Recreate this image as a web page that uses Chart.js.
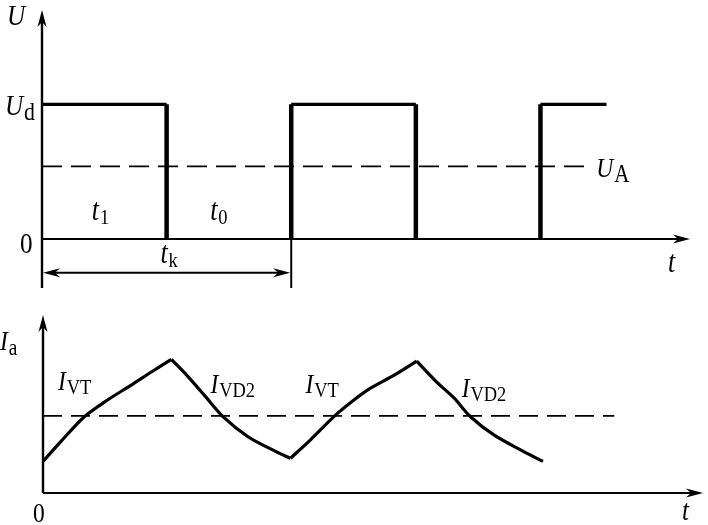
<!DOCTYPE html>
<html>
<head>
<meta charset="utf-8">
<script src="https://cdn.jsdelivr.net/npm/chart.js@4.4.0/dist/chart.umd.min.js"></script>
<style>
body { margin: 0; background: #fff; }
canvas { position: absolute; left: 0; }
#top { top: 0; }
#bottom { top: 300px; }
</style>
</head>
<body>
<canvas id="top" width="708" height="300"></canvas>
<canvas id="bottom" width="708" height="225"></canvas>
<script>
// VOLTAGE (top), time in units of t1
const uTimes = [0, 1, 1, 2, 2, 3, 3, 4, 4, 4.53];
const uValues = [1, 1, 0, 0, 1, 1, 0, 0, 1, 1];
const uAvg = 0.54;
const uAvgEnd = 4.4;
const tk = 2;

// CURRENT (bottom)
const iTimes = [0, 0.144, 0.331, 0.519, 0.706, 0.867, 1.027,
    1.16, 1.29, 1.44, 1.64, 1.86, 1.98,
    2.14, 2.34, 2.49, 2.62, 2.81, 2.99,
    3.15, 3.29, 3.42, 3.61, 3.82, 4.0];
const iValues = [0.41, 0.67, 0.99, 1.21, 1.40, 1.57, 1.735,
    1.51, 1.27, 0.99, 0.73, 0.54, 0.45,
    0.69, 1.01, 1.21, 1.36, 1.53, 1.71,
    1.44, 1.23, 0.99, 0.75, 0.56, 0.41];
const iBreaks = [0, 6, 12, 18, 24]; // peaks / troughs
const iAvg = 1;
const iAvgEnd = 4.57;

const FONT = '"Liberation Serif", "DejaVu Serif", serif';

// HELPER FUNCTIONS

const pts = function (ts, vs) {
    return ts.map((t, i) => ({x: t, y: vs[i]}));
}

function arrowHead(ctx, x, y, angle) {
    ctx.save();
    ctx.translate(x, y);
    ctx.rotate(angle);
    ctx.beginPath();
    ctx.moveTo(0, 0);
    ctx.lineTo(-17, -4.5);
    ctx.lineTo(-12, 0);
    ctx.lineTo(-17, 4.5);
    ctx.closePath();
    ctx.fill();
    ctx.restore();
}

function line(ctx, x1, y1, x2, y2, w) {
    ctx.lineWidth = w;
    ctx.beginPath();
    ctx.moveTo(x1, y1);
    ctx.lineTo(x2, y2);
    ctx.stroke();
}

// main letter italic, subscript upright
function label(ctx, x, y, main, sub, size, subSize, italic = true) {
    ctx.save();
    ctx.translate(x, y);
    ctx.scale(0.84, 1);
    ctx.fillStyle = '#000';
    ctx.textAlign = 'left';
    ctx.textBaseline = 'alphabetic';
    ctx.font = (italic ? 'italic ' : '') + size + 'px ' + FONT;
    ctx.fillText(main, 0, 0);
    if (sub) {
        let w = ctx.measureText(main).width;
        ctx.font = subSize + 'px ' + FONT;
        ctx.fillText(sub, w + 1, Math.round(subSize * 0.2));
    }
    ctx.restore();
}

const topDecor = {
    id: 'topDecor',
    beforeDatasetsDraw(chart) {
        const ctx = chart.ctx, xs = chart.scales.x, ys = chart.scales.y;
        const X = v => xs.getPixelForValue(v), Y = v => ys.getPixelForValue(v);
        ctx.save();
        ctx.strokeStyle = '#000';
        ctx.fillStyle = '#000';
        // axes
        line(ctx, X(0), Y(ys.min), X(0), Y(ys.max) + 8, 2.4);
        arrowHead(ctx, X(0), Y(ys.max), -Math.PI / 2);
        line(ctx, X(0), Y(0), X(xs.max) - 8, Y(0), 2);
        arrowHead(ctx, X(xs.max), Y(0), 0);
        // tk dimension
        line(ctx, X(tk), Y(0), X(tk), Y(ys.min), 2);
        line(ctx, X(0) + 8, Y(-0.25), X(tk) - 8, Y(-0.25), 2);
        arrowHead(ctx, X(0) + 1, Y(-0.25), Math.PI);
        arrowHead(ctx, X(tk) - 1, Y(-0.25), 0);
        ctx.restore();
    },
    afterDatasetsDraw(chart) {
        const ctx = chart.ctx, xs = chart.scales.x, ys = chart.scales.y;
        const X = v => xs.getPixelForValue(v), Y = v => ys.getPixelForValue(v);
        label(ctx, X(0) - 35, Y(ys.max) + 15, 'U', '', 30, 22);
        label(ctx, X(0) - 37, Y(1) + 11, 'U', 'd', 30, 26);
        label(ctx, X(0) - 22, Y(0) + 14, '0', '', 30, 22, false);
        label(ctx, X(0.4), Y(0) - 19, 't', '1', 31, 22);
        label(ctx, X(1.35), Y(0) - 19, 't', '0', 31, 22);
        label(ctx, X(0.95), Y(0) + 24, 't', 'k', 31, 22);
        label(ctx, X(uAvgEnd) + 6, Y(uAvg) + 11, 'U', 'A', 28, 25);
        label(ctx, X(xs.max) - 22, Y(0) + 33, 't', '', 31, 20);
    }
};

const bottomDecor = {
    id: 'bottomDecor',
    beforeDatasetsDraw(chart) {
        const ctx = chart.ctx, xs = chart.scales.x, ys = chart.scales.y;
        const X = v => xs.getPixelForValue(v), Y = v => ys.getPixelForValue(v);
        ctx.save();
        ctx.strokeStyle = '#000';
        ctx.fillStyle = '#000';
        line(ctx, X(0), Y(0), X(0), Y(ys.max) + 8, 2.4);
        arrowHead(ctx, X(0), Y(ys.max), -Math.PI / 2);
        line(ctx, X(0), Y(0), X(xs.max) - 8, Y(0), 2.2);
        arrowHead(ctx, X(xs.max), Y(0), 0);
        ctx.restore();
    },
    afterDatasetsDraw(chart) {
        const ctx = chart.ctx, xs = chart.scales.x, ys = chart.scales.y;
        const X = v => xs.getPixelForValue(v), Y = v => ys.getPixelForValue(v);
        label(ctx, X(0) - 43, Y(ys.max) + 35, 'I', 'a', 28, 23);
        label(ctx, X(0.12), Y(iAvg) - 26, 'I', 'VT', 28, 22);
        label(ctx, X(1.34), Y(iAvg) - 23, 'I', 'VD2', 28, 22);
        label(ctx, X(2.1), Y(iAvg) - 23, 'I', 'VT', 28, 22);
        label(ctx, X(3.35), Y(iAvg) - 19, 'I', 'VD2', 28, 22);
        label(ctx, X(0) - 10, Y(0) + 29, '0', '', 28, 20, false);
        label(ctx, X(xs.max) - 21, Y(0) + 27, 't', '', 30, 20);
    }
};

// TOP GRAPH
new Chart(document.getElementById('top'), {
    type: 'line',
    data: {
        datasets: [
            {
                data: [{x: 0, y: uAvg}, {x: uAvgEnd, y: uAvg}],
                borderColor: '#000',
                borderWidth: 1.8,
                borderDash: [20, 9],
                pointRadius: 0
            },
            {
                data: pts(uTimes, uValues),
                borderColor: '#000',
                borderWidth: 3.2,
                pointRadius: 0,
                borderCapStyle: 'butt',
                borderJoinStyle: 'miter',
                clip: false,
                segment: {
                    // zero parts lie on the axis
                    borderColor: c => (c.p0.parsed.y === 0 && c.p1.parsed.y === 0) ? 'transparent' : '#000',
                    borderWidth: c => c.p0.parsed.x === c.p1.parsed.x ? 4.5 : 3.2
                }
            }
        ]
    },
    options: {
        responsive: false,
        animation: false,
        layout: {padding: {left: 42, right: 18, top: 10, bottom: 12}},
        plugins: {legend: {display: false}, tooltip: {enabled: false}},
        scales: {
            x: {type: 'linear', min: 0, max: 5.2, display: false},
            y: {type: 'linear', min: -0.363, max: 1.70, display: false}
        }
    },
    plugins: [topDecor]
});

// BOTTOM GRAPH
let iSets = [];
for (let k = 0; k < iBreaks.length - 1; k++) {
    iSets.push({
        data: pts(iTimes.slice(iBreaks[k], iBreaks[k + 1] + 1), iValues.slice(iBreaks[k], iBreaks[k + 1] + 1)),
        borderColor: '#000',
        borderWidth: 3.2,
        pointRadius: 0,
        tension: 0.3,
        borderJoinStyle: 'miter',
        clip: false
    });
}
iSets.push({
    data: [{x: 0, y: iAvg}, {x: iAvgEnd, y: iAvg}],
    borderColor: '#000',
    borderWidth: 1.8,
    borderDash: [19, 9],
    pointRadius: 0
});

new Chart(document.getElementById('bottom'), {
    type: 'line',
    data: {datasets: iSets},
    options: {
        responsive: false,
        animation: false,
        layout: {padding: {left: 43, right: 5, top: 15, bottom: 32}},
        plugins: {legend: {display: false}, tooltip: {enabled: false}},
        scales: {
            x: {type: 'linear', min: 0, max: 5.28, display: false},
            y: {type: 'linear', min: 0, max: 2.31, display: false}
        }
    },
    plugins: [bottomDecor]
});
</script>
</body>
</html>
